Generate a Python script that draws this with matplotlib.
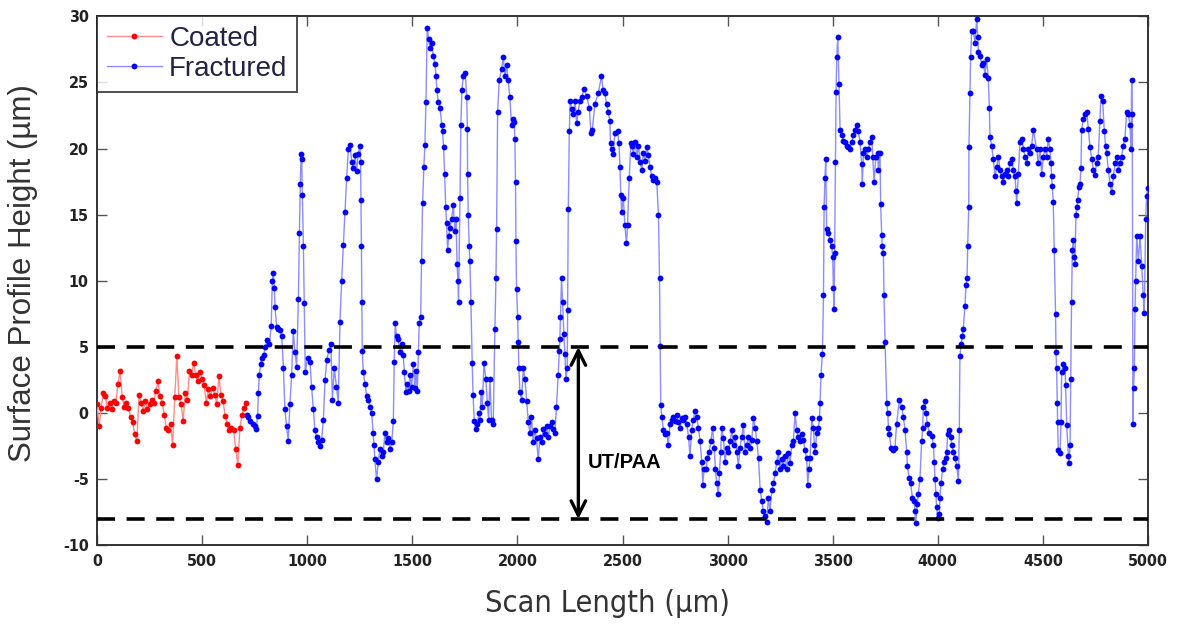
import numpy as np
import matplotlib
matplotlib.use("Agg")
import matplotlib.pyplot as plt
from matplotlib import font_manager
from matplotlib.font_manager import FontProperties

plt.rcParams["axes.unicode_minus"] = False

# ---- data -----------------------------------------------------------------
coated_x = list(range(0, 720, 10))
coated_y = [
    0.7, -1.0, 0.4, 1.5, 1.3, 0.4, 0.8, 0.3, 0.9, 0.8,
    2.2, 3.2, 1.2, 0.5, 0.8, 0.4, -0.3, -0.7, -1.6, -2.1,
    1.4, 0.8, 0.2, 0.9, 0.3, 0.7, 1.0, 0.8, 1.7, 2.4,
    1.3, 0.8, -0.1, -1.1, -1.3, -0.8, -2.4, 1.2, 4.3, 1.2,
    0.7, -0.6, 1.5, 1.0, 3.2, 2.9, 3.8, 2.9, 2.4, 3.1,
    2.6, 2.1, 0.8, 1.8, 1.3, 1.9, 1.4, 0.7, 2.8, 1.4,
    0.9, -0.2, -0.8, -1.3, -1.1, -1.3, -2.7, -3.9, -1.1, -0.1,
    0.4, 0.8,
]

fractured_x = [
    712, 720, 730, 740, 750, 758, 764, 768, 772, 779, 786, 793,
    801, 810, 820, 829, 834, 839, 844, 847, 855, 863, 871, 879, 887, 894,
    902, 910, 918, 926, 934, 942, 950, 958, 963, 967, 971, 974, 977, 982,
    986, 991, 1002, 1013, 1021, 1029, 1037, 1045, 1053, 1061, 1069, 1077,
    1085, 1093, 1104, 1113, 1120, 1129, 1139, 1148, 1156, 1164, 1172, 1180,
    1188, 1196, 1204, 1212, 1220, 1228, 1235,
    1243, 1251, 1254, 1256, 1258, 1260, 1262, 1267, 1275, 1283, 1291, 1299,
    1307, 1314, 1318, 1322, 1330, 1338, 1346, 1354, 1362, 1370, 1378, 1386,
    1394, 1402, 1410, 1414, 1419, 1425, 1433, 1441, 1449, 1457, 1462, 1470,
    1476, 1483, 1489, 1497, 1505, 1513, 1517, 1524, 1529, 1533, 1540, 1544,
    1549, 1555, 1560, 1565, 1571, 1578, 1584, 1592, 1600, 1608, 1613, 1617,
    1624, 1632, 1640, 1644, 1649, 1654, 1659, 1663, 1668, 1673, 1679, 1687,
    1695, 1703, 1708, 1713, 1717, 1720, 1727, 1731, 1736, 1743, 1752, 1759,
    1762, 1763, 1766, 1771, 1774, 1779, 1785, 1789, 1795, 1801, 1809, 1816,
    1822, 1827, 1833, 1841, 1850, 1857, 1863, 1869, 1877, 1885, 1893, 1898,
    1901, 1906, 1914,
    1925, 1933, 1941, 1949, 1956, 1964, 1972, 1980, 1985, 1988, 1991, 1993,
    1996, 2001, 2004, 2007, 2012, 2020, 2028, 2036, 2044, 2052, 2060, 2067,
    2075, 2083, 2091, 2099, 2107, 2115, 2123, 2131, 2139, 2147, 2155, 2163,
    2171, 2178, 2186, 2194, 2199, 2202, 2205, 2210, 2215, 2221, 2226, 2231,
    2237, 2239, 2242, 2247, 2251, 2258, 2266, 2274, 2282, 2289, 2297, 2305,
    2318, 2329, 2342, 2350, 2356, 2369, 2385, 2400, 2408, 2416, 2424, 2432,
    2440, 2443, 2448, 2456, 2464, 2477, 2483, 2488, 2492, 2496, 2504, 2511,
    2519, 2524, 2532, 2540,
    2544, 2552, 2560, 2568, 2576, 2584, 2592, 2599, 2607, 2615, 2623, 2631,
    2639, 2647, 2655, 2663, 2671, 2676, 2679, 2682, 2687, 2695, 2703, 2710,
    2718, 2726, 2734, 2742, 2750, 2758, 2766, 2774, 2782, 2790, 2798, 2806,
    2814, 2821, 2829, 2837, 2845, 2853, 2861, 2869, 2877, 2882, 2888, 2898,
    2904, 2913, 2920, 2929, 2936, 2942, 2948, 2956, 2961, 2967, 2972, 2980,
    2988, 2996, 3004, 3012, 3020, 3028, 3036, 3044, 3051, 3059, 3067, 3075,
    3083, 3091, 3099, 3107, 3115, 3123, 3131, 3139, 3147, 3155, 3162, 3170,
    3178, 3186, 3194, 3202, 3210, 3218, 3226, 3234, 3241, 3249, 3257, 3265,
    3273, 3281, 3289, 3297, 3305, 3313, 3321, 3329, 3337, 3344, 3352, 3360,
    3368, 3376, 3381, 3387, 3392, 3400, 3408, 3413, 3416, 3424, 3432, 3437,
    3440, 3444, 3451, 3456, 3459, 3463, 3467, 3471, 3479, 3487, 3495, 3500,
    3503, 3506, 3509, 3513, 3516, 3519, 3524, 3530, 3535, 3543, 3551, 3559,
    3567, 3575, 3582, 3590, 3598, 3606, 3614, 3622, 3630, 3638, 3641, 3646,
    3654, 3662, 3670, 3678, 3686, 3690, 3697, 3705, 3714, 3717, 3725, 3728,
    3733, 3736, 3741, 3744, 3749, 3757, 3762, 3765, 3770, 3777, 3785, 3796,
    3804, 3817,
    3828, 3836, 3844, 3852, 3855, 3864, 3871, 3879, 3887, 3891, 3895, 3902,
    3907, 3915, 3923, 3928, 3931, 3939, 3944, 3950, 3960, 3971, 3979, 3983,
    3987, 3991, 3994, 3999, 4007, 4010, 4015, 4023, 4031, 4037, 4042, 4047,
    4055, 4061, 4066, 4074, 4082, 4090, 4098, 4102, 4105, 4110, 4117, 4121,
    4129, 4134, 4139, 4142, 4147, 4148, 4153, 4156, 4161, 4169, 4177, 4185,
    4190, 4193, 4201, 4209, 4216, 4224, 4232, 4240, 4245, 4248, 4256, 4264,
    4272, 4280, 4288, 4296, 4304, 4312, 4320, 4328, 4335, 4343, 4351, 4359,
    4367, 4372, 4375, 4383, 4391, 4399, 4407, 4415, 4423, 4431, 4439, 4446,
    4454,
    4470, 4478, 4486, 4494, 4502, 4510, 4518, 4525, 4533, 4538, 4541, 4544,
    4549, 4554, 4560, 4562, 4565, 4568, 4570, 4573, 4581, 4586, 4589, 4597,
    4605, 4608, 4613, 4621, 4624, 4629, 4632, 4636, 4640, 4644, 4649, 4652,
    4657, 4662, 4665, 4671, 4676, 4681, 4684, 4692, 4700, 4708, 4716, 4724,
    4732, 4740, 4747, 4755, 4763, 4771, 4776, 4784, 4792, 4798, 4803, 4811,
    4819, 4827, 4835, 4843, 4851, 4859, 4866, 4874, 4882, 4890, 4898, 4906,
    4914, 4919, 4922, 4925, 4928, 4931, 4935, 4938, 4941, 4946, 4954, 4962,
    4970, 4977, 4982, 4989, 4993, 4998,
]
fractured_y = [
    -0.1, -0.3, -0.6, -0.8, -1.0, -1.2, -0.2, 1.5, 2.9, 3.7, 4.2, 4.4,
    5.0, 5.5, 5.2, 6.6, 10.0, 10.6, 9.5, 8.0, 6.5, 6.4, 6.3, 5.8, 3.4, 0.3,
    -1.0, -2.1, 0.7, 2.9, 6.2, 4.6, 3.5, 8.6, 13.6, 17.3, 19.6, 19.2, 16.5, 12.6,
    8.3, 3.1, 4.2, 3.9, 2.0, 0.3, -1.3, -1.8, -2.2, -2.5, -2.0, -0.5,
    2.5, 4.0, 4.8, 5.2, 1.0, 3.4, 2.0, 0.8, 6.9, 10.0, 12.7, 15.2,
    17.8, 20.0, 20.3, 19.0, 18.5, 19.5, 18.3,
    19.6, 20.2, 19.0, 16.1, 12.6, 8.4, 4.7, 3.1, 2.2, 1.3, 1.0, 0.5,
    0.0, -1.5, -2.4, -3.5, -5.0, -3.7, -2.7, -3.2, -2.9, -1.5, -2.2, -1.9,
    -2.7, -2.2, -0.6, 3.9, 6.8, 5.8, 5.6, 4.6, 5.2, 4.4, 3.1, 1.6,
    2.2, 1.7, 2.9, 2.0, 3.7, 1.9, 3.2, 1.7, 4.6, 6.8, 7.3, 11.5,
    15.9, 18.6, 20.3, 23.5, 29.1, 28.3, 27.6, 28.0, 27.0, 26.4, 25.5, 24.4,
    23.5, 23.1, 21.8, 21.3, 20.1, 18.1, 15.6, 14.4, 12.3, 13.4, 14.0, 14.7,
    15.7, 13.8, 14.7, 11.3, 10.0, 8.4, 16.3, 21.8, 24.4, 25.5, 25.7, 23.9,
    21.5, 18.1, 15.0, 12.6, 11.5, 8.4, 3.8, 1.4, -0.6, -1.2, -0.8, 0.0,
    -0.5, 1.6, 0.5, 3.8, 2.6, 0.8, -0.5, 2.6, -0.5, -0.8, 6.4, 10.2,
    13.9, 22.8, 25.2,
    26.0, 26.9, 25.5, 26.3, 25.2, 23.9, 21.8, 22.2, 22.0, 20.7, 17.5, 13.0,
    9.4, 7.3, 5.4, 3.4, 1.6, 1.0, 3.4, 2.6, 0.9, -0.7, -1.5, -0.3,
    -2.2, -1.3, -1.9, -3.5, -1.8, -2.2, -1.2, -1.6, -1.0, -1.8, -1.0, -0.7,
    -1.2, -1.5, 0.5, 2.9, 4.7, 5.6, 7.3, 10.2, 8.4, 6.0, 4.5, 2.6,
    3.4, 7.8, 15.4, 21.3, 23.6, 23.0, 22.6, 23.6, 21.9, 22.8, 23.6, 23.9,
    24.5, 24.0, 23.1, 21.2, 21.4, 23.4, 24.2, 25.5, 24.4, 24.2, 23.4, 22.8,
    22.1, 20.4, 20.0, 19.6, 21.2, 21.3, 20.4, 18.6, 16.5, 15.2, 16.3, 14.2,
    12.9, 14.2, 17.8, 20.4,
    20.2, 19.6, 20.5, 19.4, 20.2, 19.0, 18.4, 19.7, 19.1, 20.1, 19.5, 18.6,
    17.9, 17.6, 17.8, 17.5, 15.0, 10.2, 5.1, 0.6, -0.3, -1.3, -1.6, -1.5,
    -2.4, -0.8, -0.5, -0.3, -0.6, -0.1, -0.7, -1.1, -0.4, -0.5, -0.3, -0.8,
    -1.8, -3.2, -1.3, -0.5, 0.2, -0.3, -1.1, -2.1, -3.7, -5.4, -4.2, -4.2,
    -3.4, -2.9, -2.1, -1.1, -2.6, -4.2, -5.3, -6.1, -4.5, -2.9, -1.1, -1.9,
    -3.7, -2.6, -2.9, -2.1, -1.3, -2.4, -1.8, -2.9, -4.0, -2.6, -1.8, -0.9,
    -2.9, -2.4, -1.8, -2.6, -2.0, -0.4, -1.1, -2.1, -3.4, -5.8, -6.6, -7.4,
    -7.8, -8.2, -6.4, -7.4, -5.8, -5.3, -4.5, -3.7, -2.9, -4.2, -3.5, -4.0,
    -3.2, -4.2, -3.0, -3.8, -2.4, -2.1, 0.0, -1.3, -1.8, -2.1, -1.6, -2.0,
    -2.8, -3.4, -5.4, -4.2, -3.4, -0.4, -1.1, -2.4, -2.9, -1.5, -1.1, -0.4,
    0.8, 2.9, 4.5, 8.9, 15.6, 17.8, 19.2, 13.9, 13.6, 13.1, 12.6, 11.8,
    9.5, 7.9, 12.1, 19.0, 24.3, 26.9, 28.4, 24.9, 21.4, 21.0, 20.6, 20.5,
    20.2, 20.1, 20.0, 20.5, 21.0, 21.4, 21.8, 21.3, 20.5, 18.8, 17.3, 19.7,
    20.0, 19.4, 20.0, 20.5, 20.9, 19.4, 17.5, 19.4, 19.7, 18.4, 19.7, 15.8,
    13.5, 12.6, 12.1, 8.9, 5.4, 0.8, 0.0, -1.1, -1.6, -2.6, -2.8, -2.6,
    -0.8, 1.0,
    0.5, -0.3, -1.3, -2.9, -4.0, -4.9, -5.3, -6.4, -6.6, -7.4, -8.3, -6.9,
    -6.1, -5.0, -2.1, -1.1, 0.5, 0.9, 0.0, -0.8, -1.5, -1.7, -2.4, -3.7,
    -5.0, -6.1, -7.1, -7.9, -7.6, -6.4, -5.3, -4.2, -3.7, -3.4, -2.9, -1.6,
    -1.3, -1.8, -2.4, -2.9, -3.4, -4.0, -5.1, -1.3, 4.3, 5.2, 5.8, 6.4,
    8.1, 9.7, 10.2, 12.6, 15.6, 20.1, 24.2, 26.9, 28.9, 28.9, 28.0, 29.8,
    28.4, 27.3, 27.0, 26.3, 26.5, 25.6, 26.8, 25.3, 23.1, 20.9, 20.2, 19.2,
    17.9, 18.6, 19.4, 18.4, 17.9, 17.5, 18.1, 18.4, 17.9, 18.9, 19.2, 18.4,
    17.9, 16.8, 15.9, 18.1, 20.5, 20.7, 20.0, 19.4, 18.9, 20.0, 19.7, 20.2,
    21.4,
    20.0, 18.9, 20.0, 18.1, 19.4, 20.0, 19.4, 20.7, 20.0, 18.9, 17.9, 17.2,
    16.0, 12.3, 7.5, 4.6, 3.4, 0.8, -0.7, -2.8, -3.0, -0.7, 3.1, 3.7,
    3.4, 2.1, -0.9, -3.2, -3.8, -2.4, 2.6, 8.4, 12.3, 13.1, 11.8, 11.3,
    15.0, 15.6, 16.1, 17.1, 17.3, 18.5, 21.4, 22.2, 22.6, 22.8, 21.5, 20.1,
    19.2, 18.4, 18.0, 18.9, 19.4, 22.1, 24.0, 23.6, 21.3, 20.2, 19.7, 18.4,
    17.3, 16.7, 17.9, 18.9, 19.4, 18.4, 18.9, 19.4, 20.2, 20.7, 22.8, 22.6,
    21.8, 20.0, 25.2, 22.6, -0.8, 1.9, 3.4, 7.9, 10.0, 13.4, 11.5, 13.4,
    11.1, 8.9, 7.6, 14.7, 16.4, 17.0,
]

band_top = 5
band_bottom = -8
band_label = "UT/PAA"
band_x = 2290

x_ticks = list(range(0, 5001, 500))
y_ticks = list(range(-10, 31, 5))

# ---- fonts ------------------------------------------------------------------
def find_narrow(bold):
    """Return a FontProperties for an installed narrow/condensed sans face."""
    files = [f.fname for f in font_manager.fontManager.ttflist]
    prefs = (["LiberationSansNarrow-Bold", "DejaVuSansCondensed-Bold",
              "RobotoCondensed-Bold", "Roboto_Condensed-Bold",
              "OpenSans_Condensed-Bold", "OpenSansCondensed-Bold"] if bold else
             ["LiberationSansNarrow-Regular", "DejaVuSansCondensed.",
              "RobotoCondensed-Regular", "Roboto_Condensed-Regular",
              "OpenSans_Condensed-Regular", "OpenSansCondensed-Regular"])
    for p in prefs:
        for fn in files:
            if p.lower() in fn.replace(" ", "").lower():
                return FontProperties(fname=fn)
    for fn in files:
        low = fn.lower()
        if ("narrow" in low or "condensed" in low) and ("bold" in low) == bold \
                and "italic" not in low and "oblique" not in low:
            return FontProperties(fname=fn)
    return None

regular = "Liberation Sans"
tick_fp = find_narrow(True)
label_fp = find_narrow(False)

# ---- figure -------------------------------------------------------------------
fig = plt.figure(figsize=(11.81, 6.27), dpi=100)
ax = fig.add_axes([0.0821, 0.130, 0.890, 0.844])

ax.plot(coated_x, coated_y, color=(1.0, 0.55, 0.55), lw=1.0, marker="o",
        ms=4.2, mfc="red", mec="red", mew=0, label="Coated", zorder=3)
ax.plot(fractured_x, fractured_y, color=(0.55, 0.55, 1.0), lw=1.0, marker="o",
        ms=4.2, mfc="blue", mec="blue", mew=0, label="Fractured", zorder=3)

for yv in (band_top, band_bottom):
    ax.axhline(yv, color="black", lw=2.6, ls=(0, (5, 3.2)), zorder=4)

ax.annotate("", xy=(band_x, band_top), xytext=(band_x, band_bottom),
            arrowprops=dict(arrowstyle="<->", color="black", lw=2.4,
                            mutation_scale=26, shrinkA=0, shrinkB=0),
            zorder=5)
ax.text(band_x + 45, -3.7, band_label, fontsize=14.5, fontweight="bold",
        family=regular, ha="left", va="center", zorder=5)

ax.set_xlim(0, 5000)
ax.set_ylim(-10, 30)
ax.set_xticks(x_ticks)
ax.set_yticks(y_ticks)
ax.tick_params(direction="in", length=7, width=1.0, colors="#555555",
               top=True, right=True, labelcolor="#222222", pad=6)
for lab in ax.get_xticklabels() + ax.get_yticklabels():
    if tick_fp is not None:
        lab.set_fontproperties(tick_fp)
        lab.set_fontsize(11.5)
    else:
        lab.set_family(regular)
        lab.set_fontweight("bold")
        lab.set_fontsize(11.5)

for sp in ax.spines.values():
    sp.set_linewidth(1.4)
    sp.set_color("#333333")

if label_fp is not None:
    xl = ax.set_xlabel("Scan Length (µm)", fontproperties=label_fp,
                       color="#333333")
    xl.set_fontsize(22)
else:
    ax.set_xlabel("Scan Length (µm)", fontsize=20, family=regular,
                  color="#333333")
ax.xaxis.set_label_coords(0.486, -0.082)
ax.set_ylabel("Surface Profile Height (µm)", fontsize=22.5, family=regular,
              color="#333333")
ax.yaxis.set_label_coords(-0.056, 0.515)

leg = ax.legend(loc="upper left", frameon=True, fancybox=False,
                borderaxespad=0, handlelength=2.0, handletextpad=0.25,
                borderpad=0.35, labelspacing=0.15,
                prop={"family": regular, "size": 20})
leg.get_frame().set_edgecolor("#222222")
leg.get_frame().set_linewidth(1.4)
for t in leg.get_texts():
    t.set_color("#222244")

fig.savefig("out.png", dpi=100)
